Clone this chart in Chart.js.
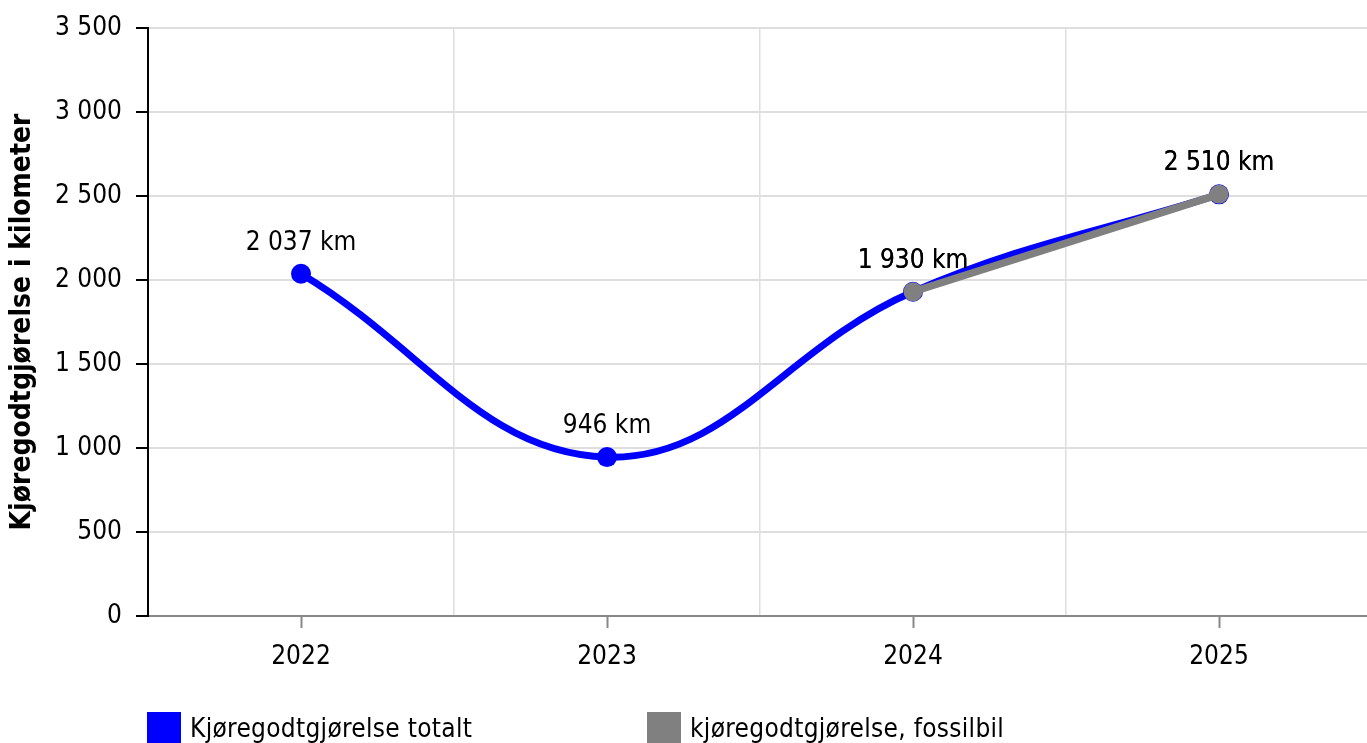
<!DOCTYPE html>
<html>
<head>
<meta charset="utf-8">
<script src="https://cdn.jsdelivr.net/npm/chart.js@4.4.1/dist/chart.umd.min.js"></script>
<style>
    body { margin: 0; overflow: hidden; background: #fff; font-family: "DejaVu Sans Condensed", "DejaVu Sans", sans-serif; }
    #wrap { position: relative; width: 1382px; height: 743px; }
    #legend { position: absolute; left: 147px; top: 712px; font-size: 26px; color: #000; }
    .item { position: absolute; top: 0; white-space: nowrap; }
    .box { position: absolute; left: 0; top: 0; width: 34px; height: 31px; }
    .txt { position: absolute; left: 43px; top: 1px; line-height: 31px; letter-spacing: 0.3px; }
</style>
</head>
<body>
<div id="wrap">
    <canvas id="myChart" width="1382" height="743"></canvas>
    <div id="legend"></div>
</div>
<script>
var labels = ['2022', '2023', '2024', '2025'];
var data_totalt = [2037, 946, 1930, 2510];
var data_fossil = [null, null, 1930, 2510];
var y_ticks = [0, 500, 1000, 1500, 2000, 2500, 3000, 3500];
var series_names = ['Kjøregodtgjørelse totalt', 'kjøregodtgjørelse, fossilbil'];
var series_colors = ['#0000ff', '#808080'];

var FONT = 'DejaVu Sans Condensed';

function fmt(v) {
    return String(v).replace(/\B(?=(\d{3})+(?!\d))/g, '\u00a0');
}

var valueLabels = {
    id: 'valueLabels',
    afterDatasetsDraw: function (chart) {
        var ctx = chart.ctx;
        ctx.save();
        ctx.font = '26px "' + FONT + '"';
        ctx.fillStyle = '#000';
        ctx.textAlign = 'center';
        ctx.textBaseline = 'middle';
        chart.data.datasets.forEach(function (ds, i) {
            var meta = chart.getDatasetMeta(i);
            meta.data.forEach(function (pt, j) {
                if (ds.data[j] == null) return;
                ctx.fillText(fmt(ds.data[j]) + ' km', pt.x, pt.y - 31);
            });
        });
        ctx.restore();
    }
};

function noSidePad(s) {
    s.paddingLeft = 0;
    s.paddingRight = 0;
}

var ctx = document.getElementById('myChart').getContext('2d');
var config = {
    type: 'line',
    data: {
        labels: labels,
        datasets: [{
            label: series_names[1],
            data: data_fossil,
            borderColor: series_colors[1],
            backgroundColor: series_colors[1],
            borderWidth: 7.5,
            pointRadius: 9.5,
            pointBorderWidth: 0,
            tension: 0,
            order: 0
        }, {
            label: series_names[0],
            data: data_totalt,
            borderColor: series_colors[0],
            backgroundColor: series_colors[0],
            borderWidth: 7,
            pointRadius: 10,
            pointBorderWidth: 0,
            tension: 0.4,
            order: 1
        }]
    },
    options: {
        responsive: false,
        animation: false,
        layout: { padding: { top: 28, right: 0, bottom: 67, left: 0 } },
        plugins: { legend: { display: false }, tooltip: { enabled: false } },
        scales: {
            x: {
                offset: true,
                grid: { drawOnChartArea: false, tickLength: 12, tickColor: '#888', tickWidth: 2 },
                border: { color: '#888', width: 2 },
                ticks: { padding: 14, color: '#000', font: { family: FONT, size: 26 }, maxRotation: 0 },
                afterFit: function (s) { s.height = 60; noSidePad(s); }
            },
            x2: {
                type: 'category',
                position: 'bottom',
                offset: true,
                grid: { offset: true, color: '#dedede', lineWidth: 1.5, drawTicks: false },
                border: { display: false },
                ticks: { display: false },
                afterFit: function (s) { s.height = 0; noSidePad(s); }
            },
            y: {
                min: 0,
                max: 3500,
                afterBuildTicks: function (s) {
                    s.ticks = y_ticks.map(function (v) { return { value: v }; });
                },
                grid: { color: '#dedede', lineWidth: 2, tickLength: 12, tickColor: '#000', tickWidth: 2 },
                border: { color: '#000', width: 2 },
                ticks: {
                    padding: 14,
                    color: '#000',
                    font: { family: FONT, size: 26, lineHeight: 1 },
                    callback: function (v) { return fmt(v); }
                },
                title: {
                    display: true,
                    text: 'Kjøregodtgjørelse i kilometer',
                    color: '#000',
                    font: { family: FONT, size: 28, weight: 'bold' },
                    padding: { top: 6, bottom: 4 }
                },
                afterFit: function (s) {
                    s.width = 148;
                    s.paddingTop = 0;
                    s.paddingBottom = 0;
                }
            }
        }
    },
    plugins: [valueLabels]
};

var chart = new Chart(ctx, config);

// html legend, items placed like the reference
var legend = document.getElementById('legend');
var lx = [0, 500];
[0, 1].forEach(function (i) {
    var d = document.createElement('div');
    d.className = 'item';
    d.style.left = lx[i] + 'px';
    d.innerHTML = '<span class="box" style="background:' + series_colors[i] + '"></span><span class="txt"></span>';
    d.querySelector('.txt').textContent = series_names[i];
    legend.appendChild(d);
});
</script>
</body>
</html>
